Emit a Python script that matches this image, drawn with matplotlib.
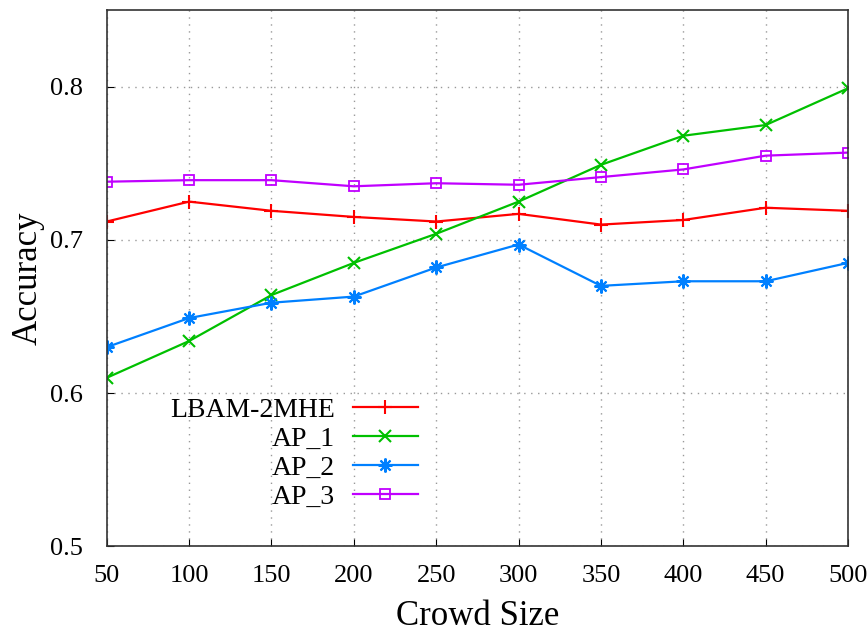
import matplotlib
matplotlib.use("Agg")
import matplotlib.pyplot as plt

crowd = [50, 100, 150, 200, 250, 300, 350, 400, 450, 500]
lbam = [0.712, 0.725, 0.719, 0.715, 0.712, 0.717, 0.710, 0.713, 0.721, 0.719]
ap1 = [0.610, 0.634, 0.664, 0.685, 0.704, 0.725, 0.749, 0.768, 0.775, 0.799]
ap2 = [0.630, 0.649, 0.659, 0.663, 0.682, 0.697, 0.670, 0.673, 0.673, 0.685]
ap3 = [0.738, 0.739, 0.739, 0.735, 0.737, 0.736, 0.741, 0.746, 0.755, 0.757]
yticks = [0.5, 0.6, 0.7, 0.8]

plt.rcParams['font.family'] = ['Liberation Serif', 'DejaVu Serif']

fig = plt.figure(figsize=(8.68, 6.33), dpi=100)
ax = fig.add_axes([0.123, 0.137, 0.854, 0.847])

ax.plot(crowd, lbam, color='#ff0000', lw=1.6, marker='+', ms=10, mew=1.5, label='LBAM-2MHE')
ax.plot(crowd, ap1, color='#00c000', lw=1.6, marker='x', ms=8, mew=1.5, label='AP_1')
ax.plot(crowd, ap2, color='#0080ff', lw=1.6, marker=(8, 2, 0), ms=10, mew=1.5, label='AP_2')
ax.plot(crowd, ap3, color='#c000ff', lw=1.6, marker='s', ms=7, mew=1.3, fillstyle='none', label='AP_3')

ax.set_xlim(50, 500)
ax.set_ylim(0.5, 0.85)
ax.set_xticks(crowd)
ax.set_yticks(yticks)
ax.set_yticklabels([f'{v:.1f}' for v in yticks])
ax.tick_params(direction='in', labelsize=19, length=5)
ax.tick_params(axis='y', pad=17)
ax.tick_params(axis='x', pad=13.5)
ax.grid(True, linestyle=(0, (1, 4)), color='#999999', lw=1)
for s in ax.spines.values():
    s.set_color('#333333')
    s.set_linewidth(1.2)

ax.set_xlabel('Crowd Size', fontsize=25, labelpad=9)
ax.set_ylabel('Accuracy', fontsize=25, labelpad=4)

leg = ax.legend(loc='upper left', bbox_to_anchor=(0.085, 0.278), frameon=False,
                markerfirst=False, fontsize=20, handlelength=2.35, handletextpad=0.65,
                labelspacing=0.13, borderpad=0, borderaxespad=0)

fig.savefig('out.png', dpi=100)
